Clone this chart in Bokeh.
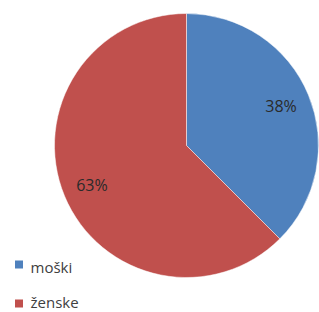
import math
from bokeh.plotting import figure
from bokeh.models import Range1d, ColumnDataSource
from bokeh.core.properties import value
from bokeh.embed import file_html
from bokeh.resources import INLINE

categories = ["moški", "ženske"]
shares = [37.5, 62.5]
pct_labels = ["38%", "63%"]
colors = ["#4F81BD", "#C0504D"]

W, H = 319, 312
p = figure(width=W, height=H, output_backend="svg", toolbar_location=None,
           x_range=Range1d(0, W), y_range=Range1d(0, H), min_border=0)
p.axis.visible = False
p.grid.visible = False
p.outline_line_color = None
p.background_fill_color = "white"

cx, cy, R = 186, H - 145, 132
total = sum(shares)
starts, ends, lx, ly = [], [], [], []
acc = 0.0
for s in shares:
    a0 = math.pi / 2 - 2 * math.pi * acc / total
    acc += s
    a1 = math.pi / 2 - 2 * math.pi * acc / total
    starts.append(a1)
    ends.append(a0)
    mid = (a0 + a1) / 2
    lx.append(cx + 0.775 * R * math.cos(mid))
    ly.append(cy + 0.775 * R * math.sin(mid))

src = ColumnDataSource(dict(start=starts, end=ends, color=colors, lx=lx, ly=ly, lab=pct_labels))
p.wedge(x=cx, y=cy, radius=R, radius_units="screen", start_angle="start", end_angle="end",
        fill_color="color", line_color="white", line_width=0.5, source=src)
p.text(x="lx", y="ly", text="lab", source=src, text_align="center", text_baseline="middle",
       text_font=value("Open Sans"), text_font_size="16px", text_color="#2a2a2a")

sq_y = [H - 264, H - 303]
tx_y = [H - 266, H - 301]
leg = ColumnDataSource(dict(x=[18.5] * 2, y=sq_y, ty=tx_y, tx=[30] * 2, color=colors, name=categories))
p.scatter(x="x", y="y", marker="square", size=8, fill_color="color", line_color=None, source=leg)
p.text(x="tx", y="ty", text="name", source=leg, text_align="left", text_baseline="middle",
       text_font=value("Open Sans"), text_font_size="15px", text_color="#404040")

open("out.html", "w").write(file_html(p, INLINE))
